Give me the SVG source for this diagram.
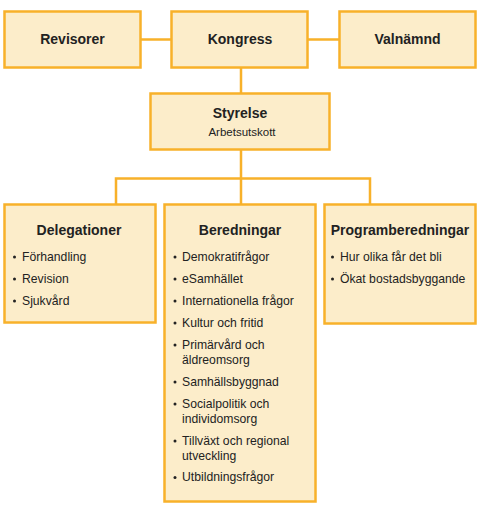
<svg xmlns="http://www.w3.org/2000/svg" width="483" height="506" viewBox="0 0 483 506">
<style>
.box{fill:#FCEDCA;stroke:#F8B12A;stroke-width:2.5}
.ln{stroke:#F8B12A;stroke-width:2.5;fill:none}
.t{font-family:"Liberation Sans",Arial,sans-serif;font-weight:bold;font-size:14px;fill:#222;text-anchor:middle}
.s{font-family:"Liberation Sans",Arial,sans-serif;font-size:11.5px;fill:#222}
.i{font-family:"Liberation Sans",Arial,sans-serif;font-size:12.2px;fill:#222}
.d{fill:#222}
</style>
<rect width="483" height="506" fill="#fff"/>
<g id="connectors">
<path class="ln" d="M141 39.5H171M308 39.5H339M241 68V93M241 150V204M116 178.5H370M116 177.3V204M370 177.3V204"/>
</g>
<g id="revisorer"><rect class="box" x="4.5" y="11.5" width="136" height="56"/><text class="t" x="72.5" y="44">Revisorer</text></g>
<g id="kongress"><rect class="box" x="171.5" y="11.5" width="136" height="56"/><text class="t" x="240" y="44">Kongress</text></g>
<g id="valnamnd"><rect class="box" x="339.5" y="11.5" width="136" height="56"/><text class="t" x="407.5" y="44">Valnämnd</text></g>
<g id="styrelse"><rect class="box" x="150.5" y="93.5" width="179" height="56"/><text class="t" x="240" y="117.5">Styrelse</text><text class="s" x="242" y="135.5" text-anchor="middle">Arbetsutskott</text></g>
<g id="delegationer"><rect class="box" x="4.5" y="204.5" width="151" height="118"/><text class="t" x="79" y="234.5">Delegationer</text>
<g class="i"><text x="22" y="260.5">Förhandling</text><text x="22" y="282.5">Revision</text><text x="22" y="304.5">Sjukvård</text></g>
<g class="d"><circle cx="14.5" cy="257" r="1.5"/><circle cx="14.5" cy="279" r="1.5"/><circle cx="14.5" cy="301" r="1.5"/></g></g>
<g id="beredningar"><rect class="box" x="164.5" y="204.5" width="151" height="297"/><text class="t" x="240" y="234.5">Beredningar</text>
<g class="i"><text x="182" y="260.5">Demokratifrågor</text><text x="182" y="282.5">eSamhället</text><text x="182" y="304.5">Internationella frågor</text><text x="182" y="326.5">Kultur och fritid</text><text x="182" y="348.5">Primärvård och</text><text x="182" y="363.5">äldreomsorg</text><text x="182" y="385.5">Samhällsbyggnad</text><text x="182" y="407.5">Socialpolitik och</text><text x="182" y="422.5">individomsorg</text><text x="182" y="444.5">Tillväxt och regional</text><text x="182" y="459.5">utveckling</text><text x="182" y="481">Utbildningsfrågor</text></g>
<g class="d"><circle cx="175" cy="257" r="1.5"/><circle cx="175" cy="279" r="1.5"/><circle cx="175" cy="301" r="1.5"/><circle cx="175" cy="323" r="1.5"/><circle cx="175" cy="345" r="1.5"/><circle cx="175" cy="382" r="1.5"/><circle cx="175" cy="404" r="1.5"/><circle cx="175" cy="441" r="1.5"/><circle cx="175" cy="477.5" r="1.5"/></g></g>
<g id="programberedningar"><rect class="box" x="324.5" y="204.5" width="151" height="119"/><text class="t" x="400" y="234.5">Programberedningar</text>
<g class="i"><text x="340" y="260.5">Hur olika får det bli</text><text x="340" y="282.5">Ökat bostadsbyggande</text></g>
<g class="d"><circle cx="332.5" cy="257" r="1.5"/><circle cx="332.5" cy="279" r="1.5"/></g></g>
</svg>
